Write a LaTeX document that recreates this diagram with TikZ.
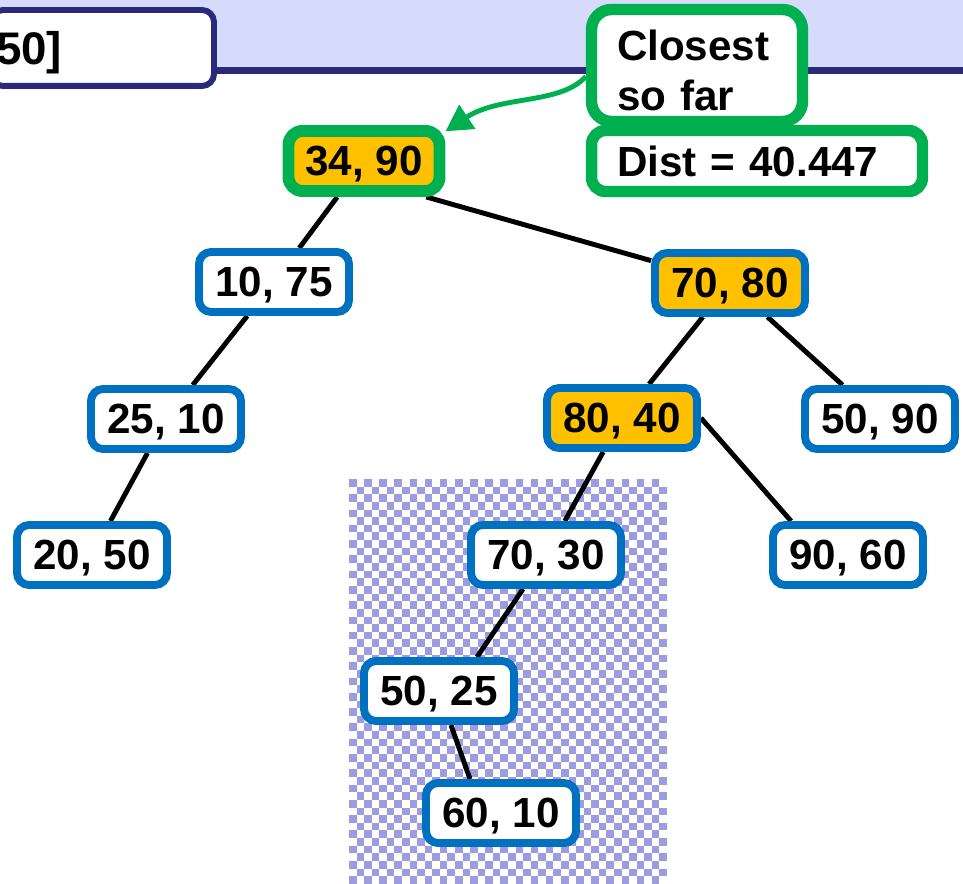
\documentclass[tikz,border=0pt]{standalone}
\usepackage{fontspec}
\setmainfont{Liberation Sans}
\usetikzlibrary{arrows.meta,positioning,calc,backgrounds}

\definecolor{kdblue}{RGB}{0,112,192}
\definecolor{kdgreen}{RGB}{0,176,80}
\definecolor{kdorange}{RGB}{255,192,0}
\definecolor{kdnavy}{RGB}{42,42,120}
\definecolor{kdband}{RGB}{214,219,252}
\definecolor{kdcheck}{RGB}{158,156,224}

\begin{document}
\begin{tikzpicture}[x=0.02cm, y=-0.02cm,
        keybox/.style={rectangle, draw=kdblue, line width=4.5pt, fill=white, rounded corners=2.4mm, minimum width=30mm, minimum height=12mm, inner sep=0pt, text depth=0pt, font=\fontsize{24}{28.4}\selectfont\bfseries},
        hit/.style={fill=kdorange},
        best/.style={draw=kdgreen, line width=6.8pt, minimum width=30.2mm, minimum height=12mm, rounded corners=2.8mm},
        note/.style={rectangle, draw=kdgreen, line width=6.5pt, fill=white, inner sep=0pt, inner xsep=5.1mm, align=left, font=\fontsize{24}{28.4}\selectfont\bfseries},
        querybox/.style={rectangle, draw=kdnavy, line width=3.4pt, fill=white, rounded corners=2.4mm, minimum height=15.2mm, inner sep=0pt, inner xsep=1mm, outer sep=0pt, text width=42.6mm, align=left, text depth=0pt, font=\fontsize{26}{30}\selectfont\bfseries},
        link/.style={line width=2.8pt, black},
        arrow/.style={-{Triangle[length=15pt,width=16pt]}, line width=2.8pt, kdgreen}]

        \useasboundingbox (0,0) rectangle (963,884);

        \begin{scope}[on background layer]
            \fill[kdband] (0,0) rectangle (963,68);
            \draw[kdnavy, line width=4pt] (0,70.5) -- (963,70.5);
            % checkerboard over the pruned subtree
            \foreach \i in {0,...,41}
                \foreach \j in {0,...,52} {
                    \pgfmathtruncatemacro\k{\i+\j}
                    \ifodd\k\else
                        \fill[kdcheck] (349+\i*7.57,479+\j*7.64) rectangle ++(7.57,7.64);
                    \fi
                }
        \end{scope}

        \node[querybox, anchor=east] (query) at (214,48) {50]};

        \node[keybox, hit, best] (n3490) at (364,161) {34, 90};
        \node[keybox] (n1075) at (274,282) {10, 75};
        \node[keybox, hit] (n7080) at (730,283) {70, 80};
        \node[keybox] (n2510) at (166,419) {25, 10};
        \node[keybox, hit] (n8040) at (622,418) {80, 40};
        \node[keybox] (n5090) at (880,419) {50, 90};
        \node[keybox] (n2050) at (92,555) {20, 50};
        \node[keybox] (n7030) at (546,555) {70, 30};
        \node[keybox] (n9060) at (848,555) {90, 60};
        \node[keybox] (n5025) at (439,691) {50, 25};
        \node[keybox] (n6010) at (501,813) {60, 10};

        \node[note, rounded corners=4mm, text width=32mm, minimum height=22.4mm, text height=23.3pt] (closest) at (697,65.5) {Closest\\so far};
        \node[note, rounded corners=2.8mm, text width=56mm, minimum height=12.2mm] (dist) at (757,161) {Dist = 40.447};

        \begin{scope}[on background layer]
            \draw[link] (n3490) -- (n1075);
            \draw[link] (n3490.-30) -- (n7080);
            \draw[link] (n1075) -- (n2510);
            \draw[link] (n2510) -- (n2050);
            \draw[link] (n7080) -- (n8040);
            \draw[link] (n7080) -- (n5090);
            \draw[link] (n8040) -- (n7030);
            \draw[link] (n8040.east) -- ($(n9060.north west)+(22,0)$);
            \draw[link] (n7030) -- ($(n5025.north)+(38,0)$);
            \draw[link] (n5025) -- ($(n6010.north)+(-31,0)$);
        \end{scope}

        \draw[arrow] ($(closest.west)+(0,11)$) .. controls (560,105) and (500,95) .. (n3490.20);
\end{tikzpicture}
\end{document}
